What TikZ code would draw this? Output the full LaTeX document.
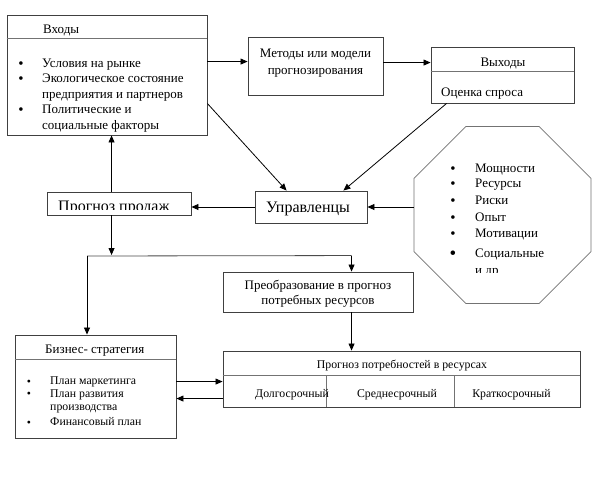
\documentclass[tikz,border=0pt]{standalone}
\usepackage{fontspec}
\setmainfont{Liberation Serif}
\usetikzlibrary{arrows.meta,shapes.geometric,calc}
\begin{document}
\begin{tikzpicture}[x=1pt,y=-1pt,
  box/.style={draw=black!75, line width=0.9pt, inner sep=0pt, fill=white},
  sep/.style={draw=black!55, line width=1pt},
  txt/.style={inner sep=0pt, font=\fontsize{13}{15.5}\selectfont},
  sml/.style={inner sep=0pt, font=\fontsize{11.8}{14}\selectfont},
  big/.style={inner sep=0pt, font=\fontsize{16}{19}\selectfont},
  bul/.style={inner sep=0pt, font=\fontsize{15}{15}\selectfont},
  arr/.style={-{Triangle[length=7pt,width=6pt]}, line width=0.8pt},
  ln/.style={line width=0.8pt}]
\useasboundingbox[fill=white] (0,0) rectangle (616,482);

% boxes
\node[box, minimum width=200pt, minimum height=120pt] (inputs) at (107,75) {};
\draw[sep] ($(inputs.north west)+(0,24)$) -- ($(inputs.north east)+(0,24)$);
\node[box, minimum width=135pt, minimum height=58pt] (methods) at (315.5,66) {};
\node[box, minimum width=143pt, minimum height=56pt] (outputs) at (502.5,75) {};
\draw[sep] ($(outputs.north west)+(0,25)$) -- ($(outputs.north east)+(0,25)$);
\node[box, minimum width=112pt, minimum height=32pt] (mgr) at (311,207) {};
\node[box, minimum width=144pt, minimum height=23pt] (sales) at (119,203.5) {};
\node[draw=black!55, line width=0.8pt, regular polygon, regular polygon sides=8,
      minimum size=191.6pt, inner sep=0pt, fill=white] (oct) at (502.5,215) {};
\node[box, minimum width=190pt, minimum height=40pt] (conv) at (318,292) {};
\node[box, minimum width=357pt, minimum height=56pt] (needs) at (401.5,379) {};
\draw[sep] ($(needs.north west)+(0,25)$) -- ($(needs.north east)+(0,25)$);
\draw[sep] ($(needs.north west)+(104,25)$) -- ($(needs.south west)+(104,0)$);
\draw[sep] ($(needs.north west)+(232,25)$) -- ($(needs.south west)+(232,0)$);
\node[box, minimum width=161pt, minimum height=103pt] (strat) at (95.5,386.5) {};
\draw[sep] ($(strat.north west)+(0,25)$) -- ($(strat.north east)+(0,25)$);

% inputs texts
\node[txt, anchor=base west] (inT) at (43,33) {Входы};
\node[bul, anchor=base] (inb1) at (21,68) {•};
\node[txt, anchor=base west] (in1) at (42,67) {Условия на рынке};
\node[bul, anchor=base] (inb2) at (21,83.5) {•};
\node[txt, anchor=base west] (in2) at (42,82.5) {Экологическое состояние};
\node[txt, anchor=base west] (in3) at (42,98) {предприятия и партнеров};
\node[bul, anchor=base] (inb4) at (21,114.5) {•};
\node[txt, anchor=base west] (in4) at (42,113.5) {Политические и};
\node[txt, anchor=base west] (in5) at (42,129) {социальные факторы};

% methods
\node[txt, anchor=base] (m1) at (315.5,57) {Методы или модели};
\node[txt, anchor=base] (m2) at (315.5,74) {прогнозирования};

% outputs
\node[txt, anchor=base] (oT) at (503,66) {Выходы};
\node[txt, anchor=base west] (o1) at (441,96) {Оценка спроса};

% managers
\node[big, anchor=base] (mgrT) at (308,212) {Управленцы};

% sales forecast (text cut off)
\begin{scope}
\clip (48,193) rectangle (190,209);
\node[big, anchor=base west] (salesT) at (58,211) {Прогноз продаж};
\end{scope}

% octagon texts
\node[bul, anchor=base] (ob1) at (453,173) {•};
\node[txt, anchor=base west] (ot1) at (475,172) {Мощности};
\node[bul, anchor=base] (ob2) at (453,188.5) {•};
\node[txt, anchor=base west] (ot2) at (475,187.5) {Ресурсы};
\node[bul, anchor=base] (ob3) at (453,205) {•};
\node[txt, anchor=base west] (ot3) at (475,204) {Риски};
\node[bul, anchor=base] (ob4) at (453,222) {•};
\node[txt, anchor=base west] (ot4) at (475,221) {Опыт};
\node[bul, anchor=base] (ob5) at (453,238) {•};
\node[txt, anchor=base west] (ot5) at (475,237) {Мотивации};
\node[inner sep=0pt, font=\fontsize{19}{19}\selectfont, anchor=base] (ob6) at (453,259) {•};
\node[txt, anchor=base west] (ot6) at (475,257) {Социальные};
\begin{scope}
\clip (470,262) rectangle (560,272);
\node[txt, anchor=base west] (ot7) at (475,274) {и др};
\end{scope}

% conversion
\node[txt, anchor=base] (c1) at (318,289.5) {Преобразование в прогноз};
\node[txt, anchor=base] (c2) at (318,304.5) {потребных ресурсов};

% needs
\node[sml, anchor=base] (nT) at (402,368) {Прогноз потребностей в ресурсах};
\node[sml, anchor=base west] (n1) at (255,397) {Долгосрочный};
\node[sml, anchor=base] (n2) at (397,397) {Среднесрочный};
\node[sml, anchor=base] (n3) at (511.5,397) {Краткосрочный};

% strategy
\node[txt, anchor=base west] (sT) at (45,353) {Бизнес- стратегия};
\node[sml, anchor=base] (sb1) at (29,385) {•};
\node[sml, anchor=base west] (s1) at (50,384.5) {План маркетинга};
\node[sml, anchor=base] (sb2) at (29,397.5) {•};
\node[sml, anchor=base west] (s2) at (50,397) {План развития};
\node[sml, anchor=base west] (s3) at (50,410.5) {производства};
\node[sml, anchor=base] (sb4) at (29,426) {•};
\node[sml, anchor=base west] (s4) at (50,425.5) {Финансовый план};

% connectors
\draw[arr] ($(inputs.north east)+(0,47)$) -- ($(methods.north west)+(0,25)$);
\draw[arr] ($(methods.north east)+(0,26)$) -- ($(outputs.north west)+(0,16)$);
\draw[arr] ($(inputs.north east)+(0,89)$) -- ($(mgr.north west)+(32,0)$);
\draw[arr] ($(outputs.south west)+(16,0)$) -- ($(mgr.north east)+(-24,0)$);
\draw[arr] ($(oct.west)+(0,-8)$) -- (mgr.east);
\draw[arr] (mgr.west) -- (sales.east |- mgr.west);
\draw[arr] ($(sales.north west)+(65,0)$) coordinate (sn) -- (sn |- inputs.south);
\coordinate (j1) at (87,256);
\coordinate (j2) at ($(conv.north west)+(129,-16)$);
\draw[arr] ($(sales.south west)+(65,0)$) coordinate (ss) -- ($(ss |- j1)+(0,-1)$);
\draw[ln, draw=black!70] (j1) -- (j2);
\draw[arr] (j2) -- (j2 |- conv.north);
\draw[arr] (j1) -- (j1 |- strat.north);
\draw[arr] ($(conv.south west)+(129,0)$) coordinate (cs) -- (cs |- needs.north);
\draw[arr] ($(strat.north east)+(0,47)$) -- ($(needs.north west)+(0,31)$);
\draw[arr] ($(needs.north west)+(0,48)$) -- ($(strat.north east)+(0,64)$);
\end{tikzpicture}
\end{document}
